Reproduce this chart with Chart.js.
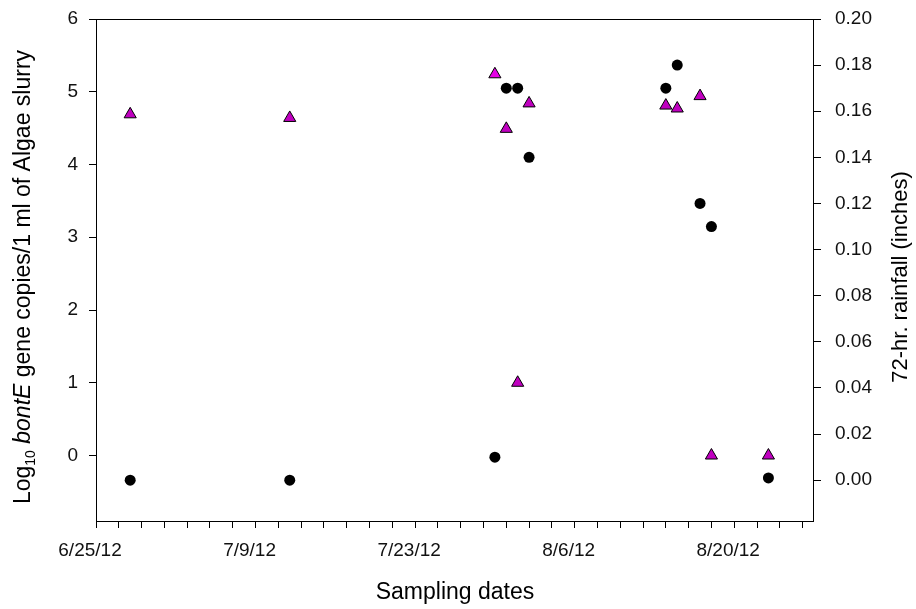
<!DOCTYPE html>
<html>
<head>
<meta charset="utf-8">
<script src="https://cdn.jsdelivr.net/npm/chart.js@4.4.1/dist/chart.umd.min.js"></script>
<style>
  html, body { margin: 0; padding: 0; background: #fff; }
  #wrap { width: 916px; height: 609px; }
</style>
</head>
<body>
<div id="wrap"><canvas id="bontChart"></canvas></div>
<script>
// sampling dates, same for both series
const sampleDates = ['6/28/12', '7/12/12', '7/30/12', '7/31/12', '8/1/12', '8/2/12',
  '8/14/12', '8/15/12', '8/17/12', '8/18/12', '8/23/12'];
// log10 bontE gene copies per 1 ml algae slurry (triangles, left axis)
const bontE = [4.69, 4.64, 5.24, 4.49, 1.00, 4.84, 4.81, 4.77, 4.94, 0.00, 0.00];
// 72-hr rainfall, inches (circles, right axis)
const rainfall = [0.00, 0.00, 0.01, 0.17, 0.17, 0.14, 0.17, 0.18, 0.12, 0.11, 0.001];

const leftTicks = [0, 1, 2, 3, 4, 5, 6];
const rightTicks = ['0.00', '0.02', '0.04', '0.06', '0.08', '0.10', '0.12', '0.14', '0.16', '0.18', '0.20'];
const dateTickLabels = ['6/25/12', '7/9/12', '7/23/12', '8/6/12', '8/20/12'];
const startDate = '6/25/12';
const endDate = '8/27/12';

const FONT = '"Liberation Sans", Arial, sans-serif';

// days since the first tick date
function toDay(s) {
  const p = s.split('/').map(Number);
  const a = startDate.split('/').map(Number);
  return (Date.UTC(2000 + p[2], p[0] - 1, p[1]) - Date.UTC(2000 + a[2], a[0] - 1, a[1])) / 86400000;
}

const triData = sampleDates.map((d, i) => ({ x: toDay(d), y: bontE[i] }));
const rainData = sampleDates.map((d, i) => ({ x: toDay(d), y: rainfall[i] }));
const triColors = bontE.map((v, i) => i === 2 ? '#e600e6' : '#c000c0');

// box around the plot + the two vertical titles
const frameAndTitles = {
  id: 'frameAndTitles',
  afterDraw(chart) {
    const { ctx, chartArea: a } = chart;
    ctx.save();
    ctx.strokeStyle = '#000';
    ctx.lineWidth = 1;
    ctx.strokeRect(Math.round(a.left) + 0.5, Math.round(a.top) + 0.5,
      Math.round(a.right - a.left) - 1, Math.round(a.bottom - a.top));
    ctx.restore();

    const cy = (a.top + a.bottom) / 2 + 7;
    const parts = [
      { t: 'Log', f: '23px ' + FONT, dy: 0 },
      { t: '10', f: '14px ' + FONT, dy: 5 },
      { t: ' ', f: '23px ' + FONT, dy: 0 },
      { t: 'bontE', f: 'italic 23px ' + FONT, dy: 0 },
      { t: ' gene copies/1 ml of Algae slurry', f: '23px ' + FONT, dy: 0 }
    ];
    ctx.save();
    ctx.fillStyle = '#000';
    ctx.textBaseline = 'alphabetic';
    ctx.textAlign = 'left';
    let total = 0;
    parts.forEach(p => { ctx.font = p.f; p.w = ctx.measureText(p.t).width; total += p.w; });
    ctx.translate(30, cy);
    ctx.rotate(-Math.PI / 2);
    let x = -total / 2;
    parts.forEach(p => { ctx.font = p.f; ctx.fillText(p.t, x, p.dy); x += p.w; });
    ctx.restore();

    ctx.save();
    ctx.fillStyle = '#000';
    ctx.font = '22px ' + FONT;
    ctx.textAlign = 'center';
    ctx.textBaseline = 'alphabetic';
    ctx.translate(907, cy);
    ctx.rotate(-Math.PI / 2);
    ctx.fillText('72-hr. rainfall (inches)', 0, 0);
    ctx.restore();
  }
};

const tickFont = { family: FONT, size: 19 };

new Chart('bontChart', {
  type: 'scatter',
  data: {
    datasets: [
      {
        label: 'Rainfall',
        data: rainData,
        yAxisID: 'y2',
        pointStyle: 'circle',
        pointRadius: 5.5,
        backgroundColor: '#000',
        borderColor: '#000',
        borderWidth: 0
      },
      {
        label: 'bontE',
        data: triData,
        yAxisID: 'y',
        pointStyle: 'triangle',
        pointRadius: 7,
        backgroundColor: triColors,
        borderColor: '#000',
        borderWidth: 1
      }
    ]
  },
  options: {
    responsive: true,
    maintainAspectRatio: false,
    animation: false,
    events: [],
    layout: { padding: { top: 19, left: 0, right: 0, bottom: 0 } },
    plugins: { legend: { display: false }, tooltip: { enabled: false } },
    scales: {
      x: {
        type: 'linear',
        min: toDay(startDate),
        max: toDay(endDate),
        afterBuildTicks: s => {
          const t = [];
          for (let d = 0; d < s.max; d += 2) t.push({ value: d });
          s.ticks = t;
        },
        afterFit: s => { s.height = 88; s.paddingLeft = 0; s.paddingRight = 0; },
        ticks: {
          autoSkip: false,
          maxRotation: 0,
          padding: 11,
          labelOffset: -6,
          color: '#111',
          font: tickFont,
          callback: v => dateTickLabels.find(l => toDay(l) === v) || ''
        },
        grid: { drawOnChartArea: false, color: '#000', tickLength: 7 },
        border: { display: false },
        title: {
          display: true,
          text: 'Sampling dates',
          color: '#000',
          font: { family: FONT, size: 23 },
          padding: { top: 0, bottom: 3 }
        }
      },
      y: {
        position: 'left',
        min: -0.9,
        max: 6,
        afterBuildTicks: s => { s.ticks = leftTicks.map(v => ({ value: v })); },
        afterFit: s => { s.width = 96; s.paddingTop = 0; s.paddingBottom = 0; },
        ticks: { padding: 11, color: '#111', font: tickFont },
        grid: { drawOnChartArea: false, color: '#000', tickLength: 7 },
        border: { display: false }
      },
      y2: {
        position: 'right',
        min: -0.0177,
        max: 0.2,
        afterBuildTicks: s => { s.ticks = rightTicks.map(v => ({ value: parseFloat(v) })); },
        afterFit: s => { s.width = 102; s.paddingTop = 0; s.paddingBottom = 0; },
        ticks: {
          padding: 14,
          color: '#111',
          font: tickFont,
          callback: v => rightTicks.find(l => Math.abs(parseFloat(l) - v) < 1e-9) || ''
        },
        grid: { drawOnChartArea: false, color: '#000', tickLength: 7 },
        border: { display: false }
      }
    }
  },
  plugins: [frameAndTitles]
});
</script>
</body>
</html>
